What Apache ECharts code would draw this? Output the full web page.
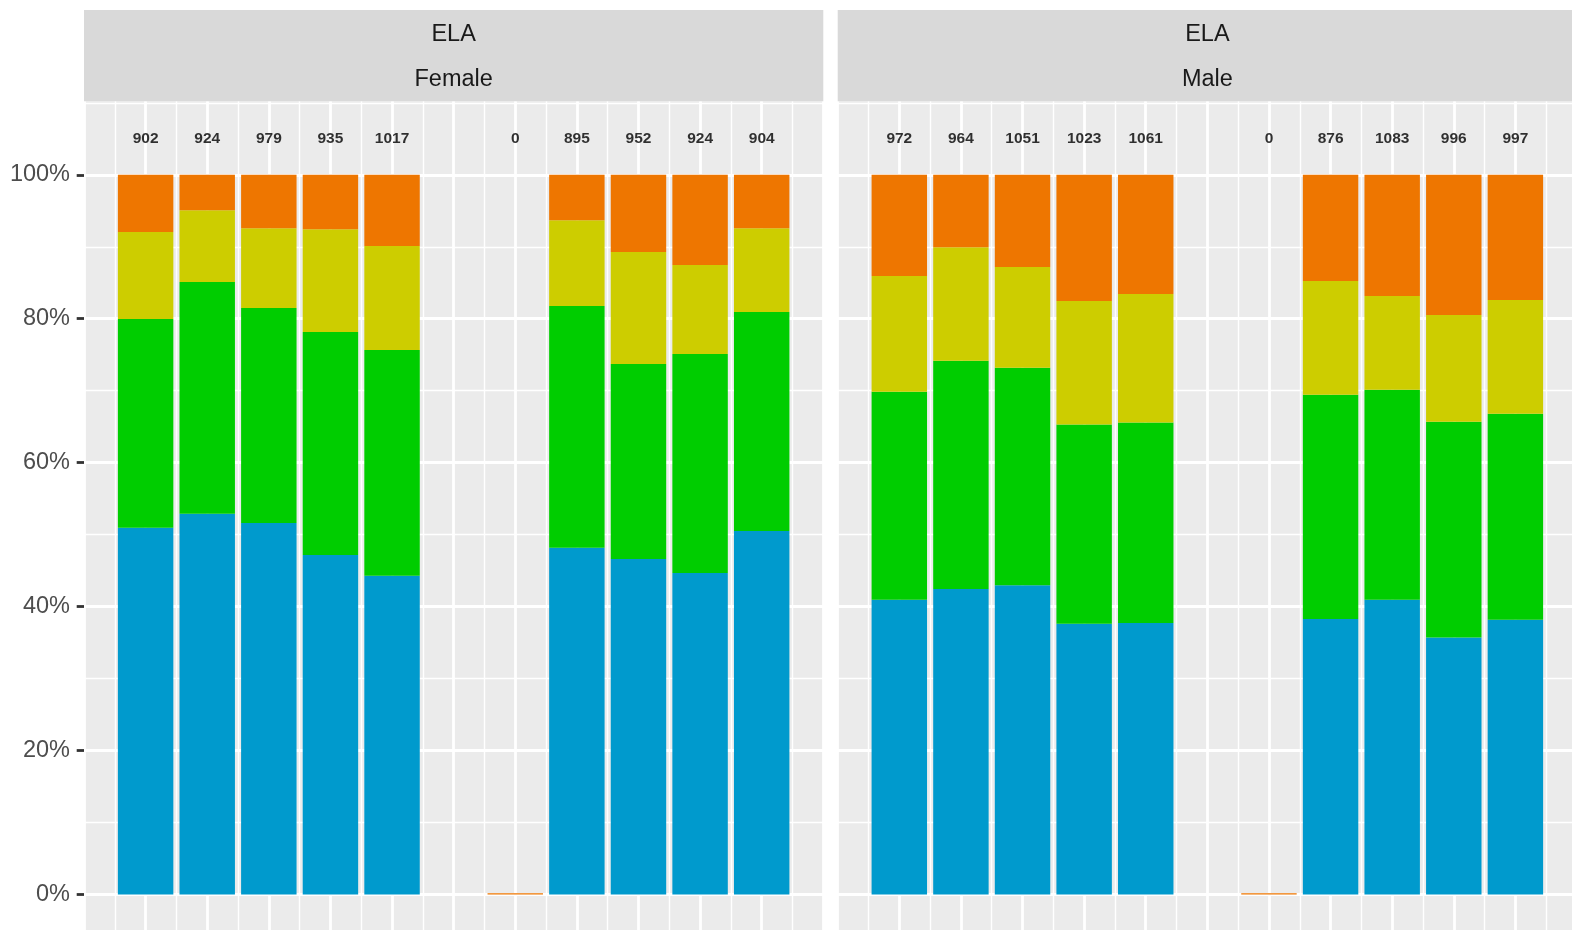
<!DOCTYPE html>
<html>
<head>
<meta charset="utf-8">
<script src="https://cdn.jsdelivr.net/npm/echarts@6/dist/echarts.min.js"></script>
<style>
html,body{margin:0;padding:0;background:#ffffff;}
#chart{width:1572px;height:930px;}
</style>
</head>
<body>
<div id="chart"></div>
<script>
// ---------------- data ----------------
const SUBJECT = 'ELA';
const PANELS = ['Female', 'Male'];
const POSITIONS = ['1', '2', '3', '4', '5', '6', '7', '8', '9', '10', '11'];
const LEVELS = ['Level 1', 'Level 2', 'Level 3', 'Level 4'];
const LEVEL_COLORS = ['#009ACD', '#00CD00', '#CDCD00', '#EE7600'];

const COUNTS_FEMALE = [902, 924, 979, 935, 1017, null, 0, 895, 952, 924, 904];
const COUNTS_MALE   = [972, 964, 1051, 1023, 1061, null, 0, 876, 1083, 996, 997];

const BLUE_FEMALE   = [0.5097, 0.5292, 0.5162, 0.4717, 0.4429, null, null, 0.4819, 0.4661, 0.4466, 0.5051];
const GREEN_FEMALE  = [0.2898, 0.3217, 0.2986, 0.3098, 0.3136, null, null, 0.3357, 0.2709, 0.3043, 0.3042];
const YELLOW_FEMALE = [0.1209, 0.1000, 0.1111, 0.1430, 0.1444, null, null, 0.1194, 0.1556, 0.1236, 0.1166];
const ORANGE_FEMALE = [0.0796, 0.0491, 0.0741, 0.0755, 0.0991, null, 0,    0.0630, 0.1074, 0.1255, 0.0741];

const BLUE_MALE     = [0.4097, 0.4246, 0.4297, 0.3763, 0.3773, null, null, 0.3828, 0.4097, 0.3570, 0.3819];
const GREEN_MALE    = [0.2889, 0.3170, 0.3022, 0.2766, 0.2784, null, null, 0.3117, 0.2917, 0.3000, 0.2862];
const YELLOW_MALE   = [0.1608, 0.1579, 0.1399, 0.1718, 0.1787, null, null, 0.1579, 0.1302, 0.1483, 0.1580];
const ORANGE_MALE   = [0.1406, 0.1005, 0.1282, 0.1753, 0.1656, null, 0,    0.1476, 0.1684, 0.1947, 0.1739];

const PANEL_COUNTS = [COUNTS_FEMALE, COUNTS_MALE];
const PANEL_VALUES = [
  [BLUE_FEMALE, GREEN_FEMALE, YELLOW_FEMALE, ORANGE_FEMALE],
  [BLUE_MALE, GREEN_MALE, YELLOW_MALE, ORANGE_MALE]
];

// ---------------- layout ----------------
const FONT = '"Liberation Sans", Arial, Helvetica, sans-serif';
const PANEL_LEFT = [84, 837.7];
const PANEL_WIDTH = 739.3;
const STRIP_TOP = 10;
const PANEL_TOP = 101.2;
const STRIP_TEXT_SHIFT = 1.5;
const Y0_PX = 894.5;     // pixel of 0%
const Y100_PX = 174.8;   // pixel of 100%
const PX_PER_UNIT = Y0_PX - Y100_PX;
const Y_MIN = -0.2, Y_MAX = 1.2;
const GRID_TOP = Y100_PX - (Y_MAX - 1) * PX_PER_UNIT;
const GRID_HEIGHT = (Y_MAX - Y_MIN) * PX_PER_UNIT;
const LABEL_Y = 1.05;
const CATS = ['padL'].concat(POSITIONS, ['padR']);
const UNIT_PX = PANEL_WIDTH / (CATS.length - 1);

const grids = [], xAxes = [], yAxes = [], series = [];
PANELS.forEach(function (name, p) {
  grids.push({
    left: PANEL_LEFT[p], top: GRID_TOP, width: PANEL_WIDTH, height: GRID_HEIGHT,
    outerBoundsMode: 'none',
    show: true, backgroundColor: '#EBEBEB', borderWidth: 0, containLabel: false
  });
  // category axis carrying the bars
  xAxes.push({
    type: 'category', gridIndex: p, data: CATS, boundaryGap: false,
    axisLine: {show: false}, axisTick: {show: false}, axisLabel: {show: false},
    splitLine: {show: false}
  });
  // value axis used only for the vertical grid lines
  xAxes.push({
    type: 'value', gridIndex: p, min: 0, max: CATS.length - 1, interval: 1,
    axisLine: {show: false}, axisTick: {show: false}, axisLabel: {show: false},
    splitLine: {show: true, lineStyle: {color: '#FFFFFF', width: 2.8}},
    minorTick: {show: false, splitNumber: 2},
    minorSplitLine: {show: true, lineStyle: {color: '#FFFFFF', width: 1.4}}
  });
  yAxes.push({
    type: 'value', gridIndex: p, min: Y_MIN, max: Y_MAX, interval: 0.2,
    axisLine: {show: false},
    axisTick: {show: p === 0, length: 7.3, lineStyle: {color: '#333333', width: 2.8}},
    axisLabel: {
      show: p === 0, margin: 14, fontSize: 23.5, fontFamily: FONT, color: '#4D4D4D',
      formatter: function (v) {
        return (v > -1e-6 && v < 1 + 1e-6) ? Math.round(v * 100) + '%' : '';
      }
    },
    splitLine: {show: true, lineStyle: {color: '#FFFFFF', width: 2.8}},
    minorTick: {show: false, splitNumber: 2},
    minorSplitLine: {show: true, lineStyle: {color: '#FFFFFF', width: 1.4}}
  });

  PANEL_VALUES[p].forEach(function (vals, k) {
    const data = [null].concat(vals, [null]).map(function (v) { return v == null ? '-' : v; });
    series.push({
      type: 'bar', name: LEVELS[k], xAxisIndex: 2 * p, yAxisIndex: p,
      stack: 'panel' + p, data: data, barWidth: UNIT_PX * 0.9,
      barMinHeight: k === 3 ? 1.2 : 0,
      itemStyle: {color: LEVEL_COLORS[k]},
      emphasis: {disabled: true}, silent: true
    });
  });

  const labelData = [];
  PANEL_COUNTS[p].forEach(function (c, i) {
    if (c != null) labelData.push([i + 1, LABEL_Y, c]);
  });
  series.push({
    type: 'scatter', xAxisIndex: 2 * p, yAxisIndex: p, data: labelData,
    symbolSize: 1, itemStyle: {color: 'rgba(0,0,0,0)'}, silent: true,
    label: {
      show: true, position: 'inside', color: '#000000', fontSize: 15.5,
      fontWeight: 'bold', fontFamily: FONT,
      formatter: function (prm) { return String(prm.value[2]); }
    }
  });
});

// strips
const graphics = [{
  type: 'rect', shape: {x: 0, y: 0, width: 1600, height: PANEL_TOP},
  style: {fill: '#FFFFFF'}, z: 100, silent: true
}];
PANELS.forEach(function (name, p) {
  const h = PANEL_TOP - STRIP_TOP;
  const cx = PANEL_LEFT[p] + PANEL_WIDTH / 2;
  graphics.push({
    type: 'rect', shape: {x: PANEL_LEFT[p], y: STRIP_TOP, width: PANEL_WIDTH, height: h},
    style: {fill: '#D9D9D9'}, z: 101, silent: true
  });
  [SUBJECT, name].forEach(function (t, j) {
    graphics.push({
      type: 'text', x: cx, y: STRIP_TOP + h * (j + 0.5) / 2 + STRIP_TEXT_SHIFT, z: 102, silent: true,
      style: {
        text: t, fill: '#1A1A1A', font: '23.5px ' + FONT,
        textAlign: 'center', textVerticalAlign: 'middle', align: 'center', verticalAlign: 'middle'
      }
    });
  });
});

const chart = echarts.init(document.getElementById('chart'));
chart.setOption({
  animation: false,
  backgroundColor: '#FFFFFF',
  grid: grids,
  xAxis: xAxes,
  yAxis: yAxes,
  series: series,
  graphic: {elements: graphics}
});
</script>
</body>
</html>
